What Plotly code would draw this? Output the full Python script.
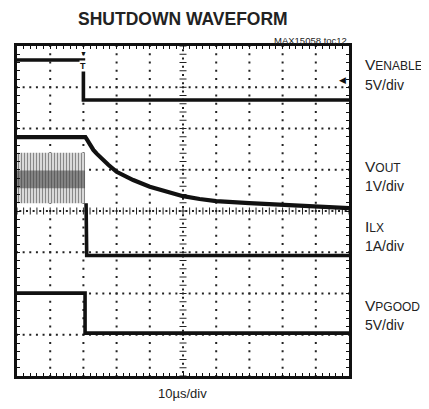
import numpy as np
import plotly.graph_objects as go

# ---- data (x in time divisions, 10 us/div; y in screen divisions, 0 = bottom) ----
en_t = [0, 2.0, 2.0, 10]
en_v = [7.66, 7.66, 6.69, 6.69]

vout_t = [0, 2.06, 2.1, 2.15, 2.2, 2.3, 2.4, 2.5, 2.75, 3.0, 3.5, 4.0, 4.5, 5.0, 5.5, 6.0, 7.0, 8.0, 9.0, 10.0]
vout_v = [5.79, 5.79, 5.74, 5.67, 5.60, 5.48, 5.39, 5.31, 5.12, 4.95, 4.75, 4.59, 4.47, 4.36, 4.29, 4.24, 4.19, 4.15, 4.10, 4.07]

ilx_sw_t = [0, 2.05]
ilx_sw_hi = [5.41, 5.41]
ilx_sw_lo = [4.19, 4.19]
ilx_sw_mid_hi = [4.98, 4.98]
ilx_sw_mid_lo = [4.55, 4.55]
ilx_t = [2.08, 2.1, 10]
ilx_v = [4.19, 2.92, 2.92]

pg_t = [0, 2.05, 2.05, 10]
pg_v = [2.01, 2.01, 1.04, 1.04]

labels_main = ["V", "V", "I", "V"]
labels_sub = ["ENABLE", "OUT", "LX", "PGOOD"]
labels_scale = ["5V/div", "1V/div", "1A/div", "5V/div"]
label_y1 = [7.56, 5.09, 3.62, 1.72]
label_y2 = [7.05, 4.60, 3.14, 1.23]

# page pixel geometry of the reference (page body has an 8px margin)
W, H = 429, 409
OFF = 8
L, R, T, B = 17, 349, 46, 376
FW, FH = W - OFF, H - OFF

fig = go.Figure()

# graticule dots
fine_x = np.round(np.arange(0, 10.001, 0.2), 2)
fine_y = np.round(np.arange(0, 8.001, 0.2), 2)
gx, gy = [], []
for yl in range(1, 8):
    if yl == 4:
        continue
    gx += list(fine_x)
    gy += [yl] * len(fine_x)
for xl in range(1, 10):
    if xl == 5:
        continue
    gx += [xl] * len(fine_y)
    gy += list(fine_y)
fig.add_trace(go.Scatter(x=gx, y=gy, mode="markers", hoverinfo="skip",
                         marker=dict(symbol="square", size=2, color="#222", line=dict(width=0))))
# center lines with ticks
fig.add_trace(go.Scatter(x=list(fine_x), y=[4] * len(fine_x), mode="markers", hoverinfo="skip",
                         marker=dict(symbol="line-ns", size=5, line=dict(width=1, color="#222"))))
fig.add_trace(go.Scatter(x=[5] * len(fine_y), y=list(fine_y), mode="markers", hoverinfo="skip",
                         marker=dict(symbol="line-ew", size=5, line=dict(width=1, color="#222"))))
half_x = np.round(np.arange(0.1, 10, 0.2), 2)
half_y = np.round(np.arange(0.1, 8, 0.2), 2)
fig.add_trace(go.Scatter(x=list(half_x) + [5] * len(half_y), y=[4] * len(half_x) + list(half_y),
                         mode="markers", hoverinfo="skip",
                         marker=dict(symbol="square", size=2, color="#222", line=dict(width=0))))

# ILX switching band
fig.add_trace(go.Scatter(x=ilx_sw_t, y=ilx_sw_lo, mode="lines", line=dict(width=0, color="black"),
                         hoverinfo="skip"))
fig.add_trace(go.Scatter(x=ilx_sw_t, y=ilx_sw_hi, mode="lines", line=dict(width=0, color="black"),
                         fill="tonexty", fillcolor="white",
                         fillpattern=dict(shape="|", size=3, solidity=0.55, fgcolor="#111", bgcolor="white"),
                         hoverinfo="skip"))
fig.add_trace(go.Scatter(x=ilx_sw_t, y=ilx_sw_mid_lo, mode="lines", line=dict(width=0, color="black"),
                         hoverinfo="skip"))
fig.add_trace(go.Scatter(x=ilx_sw_t, y=ilx_sw_mid_hi, mode="lines", line=dict(width=0, color="black"),
                         fill="tonexty", fillcolor="rgba(60,60,60,0.55)", hoverinfo="skip"))

# waveforms
fig.add_trace(go.Scatter(x=en_t, y=en_v, mode="lines", line=dict(width=3.6, color="#111")))
fig.add_trace(go.Scatter(x=vout_t, y=vout_v, mode="lines", line=dict(width=4.2, color="#111")))
fig.add_trace(go.Scatter(x=ilx_t, y=ilx_v, mode="lines", line=dict(width=3.6, color="#111")))
fig.add_trace(go.Scatter(x=pg_t, y=pg_v, mode="lines", line=dict(width=3.6, color="#111")))

axis_common = dict(showgrid=False, zeroline=False, showticklabels=False,
                   showline=True, linecolor="#111", linewidth=2.5, mirror="allticks",
                   ticks="inside", ticklen=3, tickcolor="#111", tickwidth=1, fixedrange=True)
fig.update_xaxes(range=[0, 10], dtick=1, tick0=0,
                 minor=dict(dtick=0.2, ticks="inside", ticklen=3, tickcolor="#111", tickwidth=1),
                 **axis_common)
fig.update_yaxes(range=[0, 8], dtick=1, tick0=0,
                 minor=dict(dtick=0.2, ticks="inside", ticklen=3, tickcolor="#111", tickwidth=1),
                 **axis_common)

ann = []
reg = "Liberation Sans, Arial, Helvetica, sans-serif"
ann.append(dict(text="<b>SHUTDOWN WAVEFORM</b>", xref="paper", yref="paper",
                x=(182.5 - L) / (R - L), y=(B - 19) / (B - T), xanchor="center", yanchor="middle",
                showarrow=False, font=dict(family=reg, size=17.5, color="#222")))
ann.append(dict(text="MAX15058 toc12", xref="paper", yref="paper",
                x=1.0, y=(B - 40.5) / (B - T), xanchor="right", yanchor="middle",
                showarrow=False, font=dict(family=reg, size=9.5, color="#222")))
ann.append(dict(text="10\u00b5s/div", xref="paper", yref="paper",
                x=(182 - L) / (R - L), y=(B - 393) / (B - T), xanchor="center", yanchor="middle",
                showarrow=False, font=dict(family=reg, size=13, color="#222")))
for m, s, sc, y1, y2 in zip(labels_main, labels_sub, labels_scale, label_y1, label_y2):
    ann.append(dict(text=f"{m}<span style='font-size:12px'>{s}</span>", xref="paper", yref="y",
                    x=(363 - L) / (R - L), y=y1, xanchor="left", yanchor="middle",
                    showarrow=False, font=dict(family=reg, size=15.5, color="#222")))
    ann.append(dict(text=sc, xref="paper", yref="y",
                    x=(363 - L) / (R - L), y=y2, xanchor="left", yanchor="middle",
                    showarrow=False, font=dict(family=reg, size=14, color="#222")))
# trigger marker and ground arrow
ann.append(dict(text="\u25bc", xref="x", yref="paper", x=2.0, y=1.0, xanchor="center", yanchor="top",
                yshift=-1, showarrow=False, font=dict(size=7, color="#111")))
ann.append(dict(text="<b>T</b>", xref="x", yref="y", x=2.0, y=7.52, xanchor="center", yanchor="middle",
                showarrow=False, bgcolor="white", borderpad=0, font=dict(family=reg, size=9, color="#111")))
ann.append(dict(text="\u25c0", xref="paper", yref="y", x=1.0, y=7.18, xanchor="right", yanchor="middle",
                xshift=-1, showarrow=False, font=dict(size=9, color="#111")))

fig.update_layout(width=FW, height=FH,
                  margin=dict(l=L - OFF, r=FW - (R - OFF), t=T - OFF, b=FH - (B - OFF), pad=0),
                  paper_bgcolor="white", plot_bgcolor="white", showlegend=False,
                  annotations=ann)

fig.write_html("out.html")
